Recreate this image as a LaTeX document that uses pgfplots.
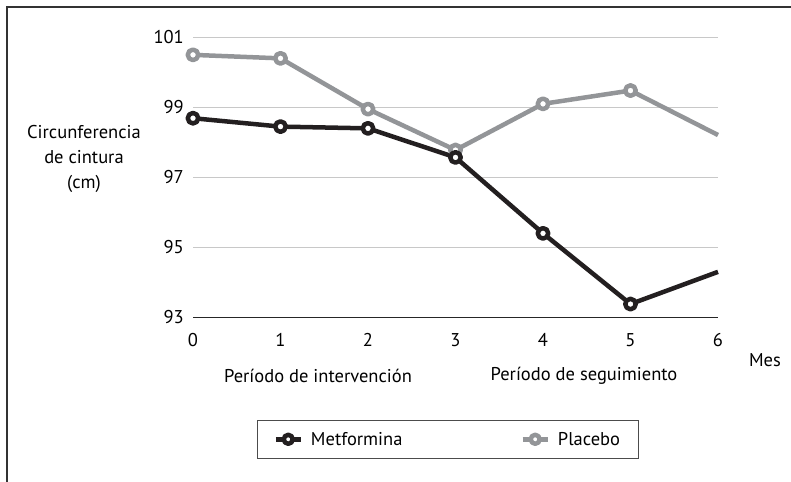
\documentclass[border=0pt]{standalone}
\usepackage{pgfplots}
\pgfplotsset{compat=1.18}
\usepackage{fontspec}
\setmainfont{PT Sans}
\definecolor{metf}{HTML}{231F20}
\definecolor{plac}{HTML}{939598}
\definecolor{gridc}{HTML}{C8C8C8}
\newcommand{\chartfont}{\fontsize{18.5bp}{25bp}\selectfont}
\begin{document}
\begin{tikzpicture}
\begin{axis}[
  scale only axis, width=525bp, height=280bp,
  xmin=0, xmax=6, ymin=93, ymax=101,
  xtick={0,...,6}, ytick={93,95,97,99,101},
  axis x line*=bottom, axis y line*=left,
  y axis line style={draw=none},
  x axis line style={line width=1bp, color=black!85, -},
  major tick length=0pt,
  ymajorgrids, grid style={line width=1bp, gridc},
  tick label style={font=\chartfont},
  /pgf/number format/assume math mode=true,
  yticklabel style={inner sep=0pt, xshift=-9bp},
  xticklabel style={inner sep=0pt, yshift=-16bp},
  clip=false,
  legend columns=2,
  reverse legend,
  legend style={at={(axis description cs:0.1219,-0.3679)}, anchor=north west,
    draw=black!70, line width=1bp, inner xsep=16bp, inner ysep=9.5bp, font=\chartfont,
    /tikz/every odd column/.append style={column sep=6bp},
    /tikz/every even column/.append style={column sep=116bp}},
  legend image code/.code={\draw[mark indices={2}, mark size=4.5bp]
    plot coordinates {(0bp,0bp) (12.5bp,0bp) (25bp,0bp)};},
]
\addplot[color=plac, line width=4.5bp, line join=round, mark=*, mark indices={1,...,6},
  mark size=5.25bp, mark options={fill=white, line width=4.5bp}]
  coordinates {(0,100.49) (1,100.39) (2,98.94) (3,97.77) (4,99.09) (5,99.47) (6,98.2)};
\addlegendentry{Placebo}
\addplot[color=metf, line width=4.5bp, line join=round, mark=*, mark indices={1,...,6},
  mark size=5.25bp, mark options={fill=white, line width=4.5bp}]
  coordinates {(0,98.68) (1,98.44) (2,98.39) (3,97.56) (4,95.39) (5,93.37) (6,94.29)};
\addlegendentry{Metformina}
\end{axis}
\node[align=center, font=\chartfont] at (-109bp,158bp) {Circunferencia\\de cintura\\(cm)};
\node[font=\chartfont] at (125bp,-59bp) {Período de intervención};
\node[font=\chartfont] at (391bp,-59bp) {Período de seguimiento};
\node[font=\chartfont] at (572bp,-43bp) {Mes};
\draw[line width=1.3bp, black!80] (-186bp,-170bp) -- (-186bp,310bp) -- (610bp,310bp);
\pgfresetboundingbox
\useasboundingbox (-193bp,-165bp) rectangle (598bp,317bp);
\end{tikzpicture}
\end{document}
